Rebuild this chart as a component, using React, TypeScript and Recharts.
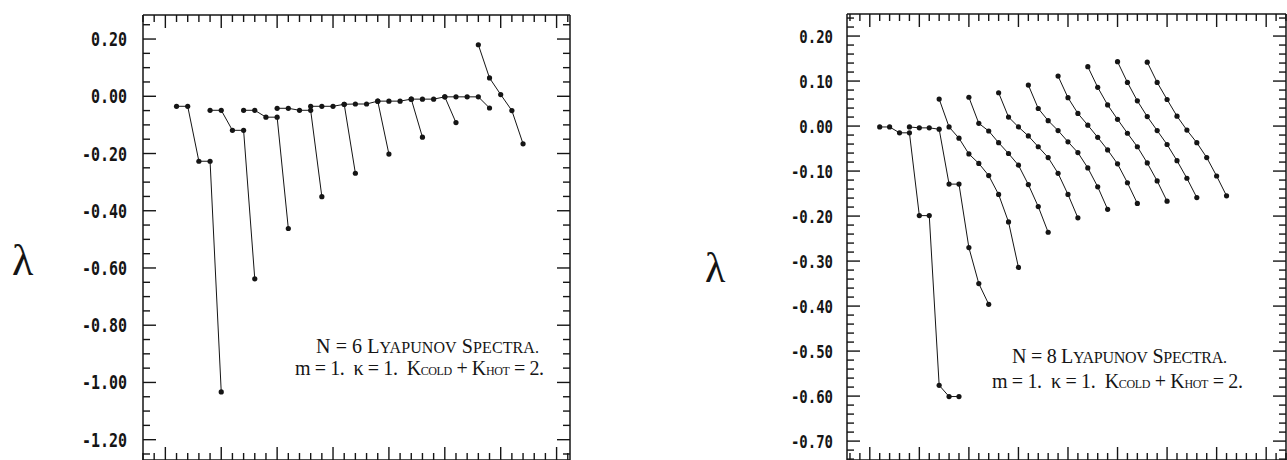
import React from 'react';
import { ScatterChart, Scatter, XAxis, YAxis } from 'recharts';

// ---------------- data ----------------
// x positions are the index along the plot (one minor tick per index); each spectrum starts at n*Starts[i]
const n6Starts = [1, 4, 7, 10, 13, 16, 19, 22, 25, 28];
const n6Spectra = [
  [-0.035, -0.035, -0.227, -0.227, -1.033],
  [-0.049, -0.049, -0.119, -0.119, -0.638],
  [-0.049, -0.049, -0.073, -0.073, -0.462],
  [-0.042, -0.042, -0.049, -0.049, -0.351],
  [-0.035, -0.035, -0.035, -0.028, -0.269],
  [-0.028, -0.027, -0.027, -0.017, -0.202],
  [-0.017, -0.017, -0.017, -0.010, -0.143],
  [-0.010, -0.010, -0.010, -0.002, -0.092],
  [-0.002, -0.002, -0.002, -0.002, -0.041],
  [0.180, 0.064, 0.006, -0.050, -0.166],
];

const n8Starts = [1, 4, 7, 10, 13, 16, 19, 22, 25, 28];
const n8Spectra = [
  [-0.002, -0.002, -0.015, -0.015, -0.199, -0.199, -0.576, -0.601, -0.601],
  [-0.002, -0.004, -0.004, -0.007, -0.129, -0.129, -0.270, -0.350, -0.396],
  [0.060, -0.002, -0.027, -0.062, -0.083, -0.110, -0.152, -0.213, -0.314],
  [0.064, 0.006, -0.011, -0.037, -0.061, -0.087, -0.130, -0.179, -0.236],
  [0.074, 0.020, -0.002, -0.022, -0.046, -0.070, -0.105, -0.152, -0.204],
  [0.091, 0.039, 0.012, -0.010, -0.035, -0.059, -0.093, -0.135, -0.185],
  [0.111, 0.063, 0.028, 0.002, -0.025, -0.053, -0.084, -0.126, -0.172],
  [0.132, 0.086, 0.047, 0.015, -0.016, -0.046, -0.082, -0.122, -0.167],
  [0.143, 0.097, 0.056, 0.021, -0.010, -0.041, -0.077, -0.116, -0.159],
  [0.142, 0.097, 0.059, 0.022, -0.009, -0.037, -0.070, -0.111, -0.155],
];

const n6YLabels = [0.2, 0.0, -0.2, -0.4, -0.6, -0.8, -1.0, -1.2];
const n8YLabels = [0.2, 0.1, 0.0, -0.1, -0.2, -0.3, -0.4, -0.5, -0.6, -0.7];

const n6Title = ['N = 6 L', 'YAPUNOV', ' S', 'PECTRA.'];
const n8Title = ['N = 8 L', 'YAPUNOV', ' S', 'PECTRA.'];
const paramParts = ['m = 1.  \u03BA = 1.  K', 'COLD', ' + K', 'HOT', ' = 2.'];

// ---------------- helpers ----------------
const INK = '#151515';

function range(a: number, b: number, step: number): number[] {
  const out: number[] = [];
  const k0 = Math.round(a / step);
  const k1 = Math.round(b / step);
  for (let k = k0; k <= k1; k++) out.push(+(k * step).toFixed(4));
  return out;
}

const n6YTicks = range(-1.25, 0.25, 0.05);
const n8YTicks = range(-0.74, 0.24, 0.02);
const n6XTicks = range(-2, 36, 1);
const n8XTicks = range(-2, 42, 1);

const toPoints = (start: number, vals: number[]) => vals.map((v, i) => ({ x: start + i, y: v }));

const isMajor = (v: number, majors: number[]) => majors.some((m) => Math.abs(m - v) < 1e-6);

const dotShape = (r: number) => (p: any) => <circle cx={p.cx} cy={p.cy} r={r} fill={INK} />;

function xTick(side: 'top' | 'bottom') {
  return (props: any) => {
    const { x, y, payload } = props;
    const major = Math.round(payload.value) % 5 === 0;
    const len = major ? 13 : 7;
    const dir = side === 'top' ? 1 : -1;
    return <line x1={x} x2={x} y1={y} y2={y + dir * len} stroke={INK} strokeWidth={1.4} />;
  };
}

function yTick(side: 'left' | 'right', majors: number[], gap: number, fontSize: number) {
  return (props: any) => {
    const { x, y, payload } = props;
    const major = isMajor(payload.value, majors);
    const len = major ? 13 : 7;
    const dir = side === 'left' ? 1 : -1;
    return (
      <g>
        <line x1={x} x2={x + dir * len} y1={y} y2={y} stroke={INK} strokeWidth={1.4} />
        {side === 'left' && major ? (
          <text
            transform={`translate(${x - gap},${y}) scale(1,1.3)`}
            textAnchor="end"
            dy="0.36em"
            fontFamily="'DejaVu Sans Mono', monospace"
            fontWeight="bold"
            fontSize={fontSize}
            fill={INK}
          >
            {Number(payload.value).toFixed(2)}
          </text>
        ) : null}
      </g>
    );
  };
}

type PanelProps = {
  spectra: number[][];
  starts: number[];
  xDomain: [number, number];
  yDomain: [number, number];
  xTicks: number[];
  yTicks: number[];
  yMajor: number[];
  width: number;
  height: number;
  leftW: number;
  rightW: number;
  topH: number;
  bottomH: number;
  gap: number;
  fontSize: number;
  dotR: number;
};

function Panel(p: PanelProps) {
  const axisLine = { stroke: INK, strokeWidth: 1.5 };
  return (
    <ScatterChart width={p.width} height={p.height} margin={{ top: 0, right: 0, bottom: 0, left: 0 }}>
      <XAxis
        xAxisId="b"
        orientation="bottom"
        type="number"
        dataKey="x"
        domain={p.xDomain}
        ticks={p.xTicks}
        interval={0}
        height={p.bottomH}
        tickSize={0}
        tickMargin={0}
        tickLine={false}
        axisLine={axisLine}
        tick={xTick('bottom')}
        allowDataOverflow
      />
      <XAxis
        xAxisId="t"
        orientation="top"
        type="number"
        dataKey="x"
        domain={p.xDomain}
        ticks={p.xTicks}
        interval={0}
        height={p.topH}
        tickSize={0}
        tickMargin={0}
        tickLine={false}
        axisLine={axisLine}
        tick={xTick('top')}
        allowDataOverflow
      />
      <YAxis
        yAxisId="l"
        orientation="left"
        type="number"
        dataKey="y"
        domain={p.yDomain}
        ticks={p.yTicks}
        interval={0}
        width={p.leftW}
        tickSize={0}
        tickMargin={0}
        tickLine={false}
        axisLine={axisLine}
        tick={yTick('left', p.yMajor, p.gap, p.fontSize)}
        allowDataOverflow
      />
      <YAxis
        yAxisId="r"
        orientation="right"
        type="number"
        dataKey="y"
        domain={p.yDomain}
        ticks={p.yTicks}
        interval={0}
        width={p.rightW}
        tickSize={0}
        tickMargin={0}
        tickLine={false}
        axisLine={axisLine}
        tick={yTick('right', p.yMajor, p.gap, p.fontSize)}
        allowDataOverflow
      />
      {p.spectra.map((vals, i) => (
        <Scatter
          key={i}
          xAxisId="b"
          yAxisId="l"
          data={toPoints(p.starts[i], vals)}
          line={{ stroke: INK, strokeWidth: 1 }}
          shape={dotShape(p.dotR)}
          isAnimationActive={false}
        />
      ))}
    </ScatterChart>
  );
}

function Note({ x1, y1, x2, y2, w1, w2, title }: { x1: number; y1: number; x2: number; y2: number; w1: number; w2: number; title: string[] }) {
  const fs = 20;
  const sc = Math.round(fs * 0.78);
  const sub = Math.round(fs * 0.6);
  const common = { fontFamily: "'Liberation Serif', 'DejaVu Serif', serif", fill: INK, style: { whiteSpace: 'pre' as const } };
  return (
    <g>
      <text x={x1} y={y1} fontSize={fs} textLength={w1} lengthAdjust="spacing" {...common}>
        <tspan>{title[0]}</tspan>
        <tspan fontSize={sc}>{title[1]}</tspan>
        <tspan>{title[2]}</tspan>
        <tspan fontSize={sc}>{title[3]}</tspan>
      </text>
      <text x={x2} y={y2} fontSize={fs} textLength={w2} lengthAdjust="spacing" {...common}>
        <tspan>{paramParts[0]}</tspan>
        <tspan fontSize={sub}>{paramParts[1]}</tspan>
        <tspan>{paramParts[2]}</tspan>
        <tspan fontSize={sub}>{paramParts[3]}</tspan>
        <tspan>{paramParts[4]}</tspan>
      </text>
    </g>
  );
}

export default function App() {
  return (
    <div style={{ position: 'absolute', left: 0, top: 0, width: 1287, height: 460, overflow: 'hidden', background: '#fff' }}>
      <div style={{ position: 'absolute', left: 0, top: 0 }}>
        <Panel
          spectra={n6Spectra}
          starts={n6Starts}
          xDomain={[-2, 36.2]}
          yDomain={[-1.271, 0.284]}
          xTicks={n6XTicks}
          yTicks={n6YTicks}
          yMajor={n6YLabels}
          width={600}
          height={480}
          leftW={143}
          rightW={30}
          topH={15}
          bottomH={20}
          gap={16}
          fontSize={15}
          dotR={2.6}
        />
      </div>
      <div style={{ position: 'absolute', left: 700, top: 0 }}>
        <Panel
          spectra={n8Spectra}
          starts={n8Starts}
          xDomain={[-2.3, 42]}
          yDomain={[-0.742, 0.249]}
          xTicks={n8XTicks}
          yTicks={n8YTicks}
          yMajor={n8YLabels}
          width={620}
          height={480}
          leftW={147}
          rightW={34}
          topH={14}
          bottomH={20}
          gap={14}
          fontSize={14}
          dotR={2.6}
        />
      </div>
      <svg style={{ position: 'absolute', left: 0, top: 0 }} width={1287} height={460}>
        <text x={12} y={275} fontSize={44} fontFamily="'Liberation Serif', serif" fill={INK}>
          {'\u03BB'}
        </text>
        <text x={705} y={282} fontSize={42} fontFamily="'Liberation Serif', serif" fill={INK}>
          {'\u03BB'}
        </text>
        <Note x1={316} y1={353} x2={295} y2={375} w1={223} w2={249} title={n6Title} />
        <Note x1={1012} y1={363} x2={992} y2={388} w1={215} w2={251} title={n8Title} />
      </svg>
    </div>
  );
}
